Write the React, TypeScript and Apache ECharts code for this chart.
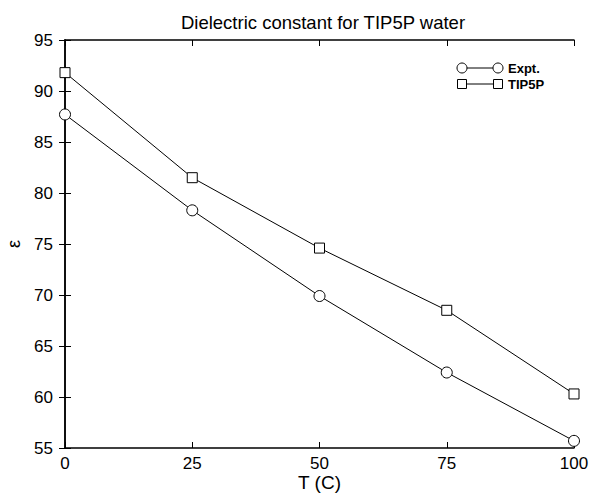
import React, { useEffect, useRef } from "react";
import * as echarts from "echarts";

const temps = [0, 25, 50, 75, 100];
const expt = [87.7, 78.3, 69.9, 62.4, 55.7];
const tip5p = [91.8, 81.5, 74.6, 68.5, 60.3];

const FONT = "Liberation Sans";

export default function App() {
  const ref = useRef<HTMLDivElement>(null);
  useEffect(() => {
    if (!ref.current) return;
    const chart = echarts.init(ref.current, undefined, { renderer: "svg" });
    const axisCommon = {
      axisLine: { show: true, lineStyle: { color: "#000", width: 1.5 } },
      axisTick: { show: true, inside: true, length: 6, lineStyle: { color: "#000", width: 1 } },
      splitLine: { show: false },
    };
    chart.setOption({
      animation: false,
      backgroundColor: "#fff",
      title: {
        text: "Dielectric constant for TIP5P water",
        left: 318,
        textAlign: "center",
        top: 8,
        textStyle: { fontFamily: FONT, fontSize: 18.5, fontWeight: "normal", color: "#000" },
      },
      grid: { left: 65, right: 16, top: 40, bottom: 47, containLabel: false, outerBoundsMode: "none" },
      xAxis: [
        {
          type: "value",
          min: 0,
          max: 100,
          interval: 25,
          name: "T (C)",
          nameLocation: "middle",
          nameGap: 25,
          nameMoveOverlap: false,
          nameTextStyle: { fontFamily: FONT, fontSize: 19, color: "#000" },
          axisLabel: { fontFamily: FONT, fontSize: 17, color: "#000", margin: 7 },
          ...axisCommon,
        },
        {
          type: "value",
          position: "top",
          min: 0,
          max: 100,
          interval: 25,
          axisLabel: { show: false },
          ...axisCommon,
        },
      ],
      yAxis: [
        {
          type: "value",
          min: 55,
          max: 95,
          interval: 5,
          name: "ε",
          nameLocation: "middle",
          nameGap: 42,
          nameMoveOverlap: false,
          nameTextStyle: { fontFamily: FONT, fontSize: 18, color: "#000" },
          axisLabel: { fontFamily: FONT, fontSize: 17, color: "#000", margin: 12 },
          ...axisCommon,
        },
        {
          type: "value",
          position: "right",
          min: 55,
          max: 95,
          interval: 5,
          axisLabel: { show: false },
          ...axisCommon,
        },
      ],
      series: [
        {
          name: "Expt.",
          type: "line",
          data: temps.map((t, i) => [t, expt[i]]),
          symbol: "circle",
          symbolSize: 11,
          showAllSymbol: true,
          lineStyle: { color: "#000", width: 1 },
          itemStyle: { color: "#fff", borderColor: "#000", borderWidth: 1 },
          z: 3,
        },
        {
          name: "TIP5P",
          type: "line",
          data: temps.map((t, i) => [t, tip5p[i]]),
          symbol: "rect",
          symbolSize: 10,
          showAllSymbol: true,
          lineStyle: { color: "#000", width: 1 },
          itemStyle: { color: "#fff", borderColor: "#000", borderWidth: 1 },
          z: 3,
        },
      ],
      graphic: [
        { type: "line", shape: { x1: 462, y1: 68, x2: 498, y2: 68 }, style: { stroke: "#000", lineWidth: 1 } },
        { type: "circle", shape: { cx: 462, cy: 68, r: 5 }, style: { fill: "#fff", stroke: "#000", lineWidth: 1 } },
        { type: "circle", shape: { cx: 498, cy: 68, r: 5 }, style: { fill: "#fff", stroke: "#000", lineWidth: 1 } },
        { type: "text", x: 508, y: 68, style: { text: "Expt.", fontFamily: FONT, fontSize: 13, fontWeight: "bold", fill: "#000", verticalAlign: "middle" } },
        { type: "line", shape: { x1: 462, y1: 84, x2: 498, y2: 84 }, style: { stroke: "#000", lineWidth: 1 } },
        { type: "rect", shape: { x: 457.5, y: 79.5, width: 9, height: 9 }, style: { fill: "#fff", stroke: "#000", lineWidth: 1 } },
        { type: "rect", shape: { x: 493.5, y: 79.5, width: 9, height: 9 }, style: { fill: "#fff", stroke: "#000", lineWidth: 1 } },
        { type: "text", x: 508, y: 84, style: { text: "TIP5P", fontFamily: FONT, fontSize: 13, fontWeight: "bold", fill: "#000", verticalAlign: "middle" } },
      ],
    });
    return () => chart.dispose();
  }, []);
  return <div ref={ref} style={{ width: 590, height: 495, position: "absolute", left: 0, top: 0 }} />;
}
